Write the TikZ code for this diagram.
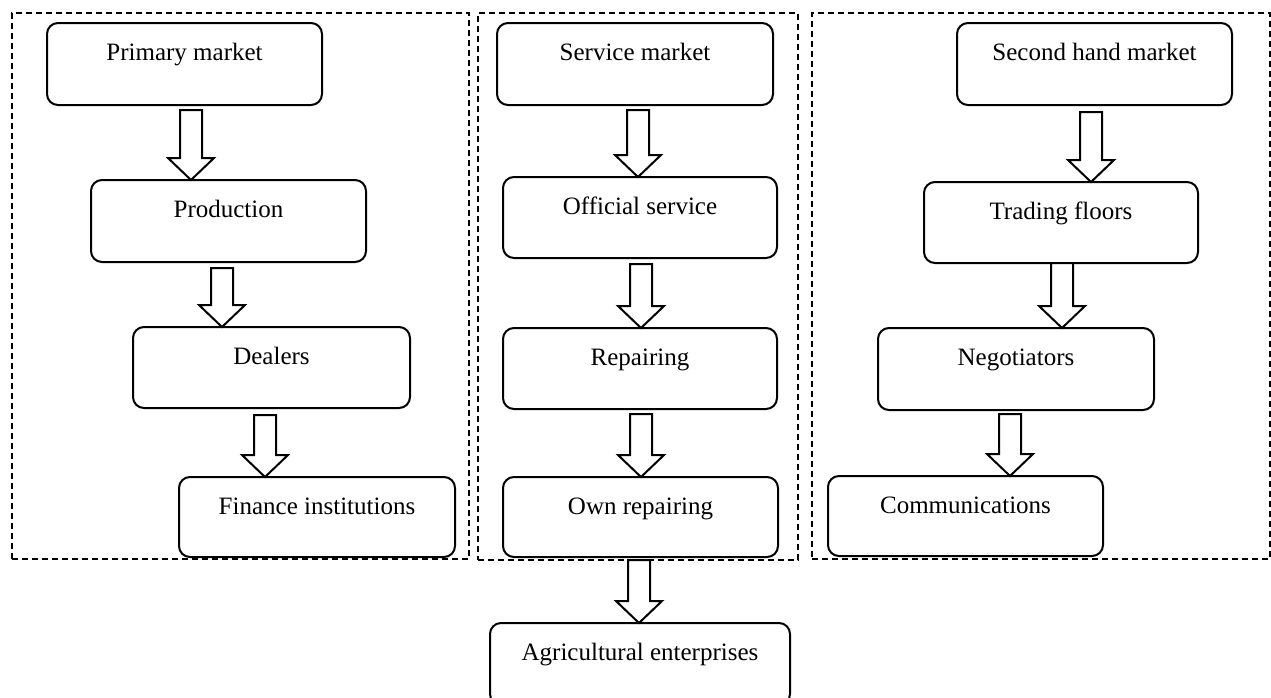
\documentclass[tikz,border=0pt]{standalone}
\usepackage{fontspec}
\setmainfont{Liberation Serif}
\usetikzlibrary{calc}
\tikzset{
  box/.style={draw, line width=2pt, rounded corners=11pt, inner sep=0pt, outer sep=0pt,
    minimum width=275pt, minimum height=82pt, text height=37pt, text depth=45pt,
    anchor=north west, font=\fontsize{25}{30}\selectfont},
  frame/.style={draw, line width=1.3pt, dash pattern=on 6pt off 4pt, inner sep=0pt,
    outer sep=0pt, anchor=north west},
  blk/.style={draw, line width=2pt, fill=white, line join=miter},
}
\newcommand\blkarrow[4]{%
  \draw[blk] let \p1=(#1.south), \p2=(#2.north) in
    (#3pt-11pt,\y1-#4pt) -- (#3pt-11pt,\y2+22pt) -- (#3pt-23pt,\y2+22pt) --
    (#3pt,\y2) -- (#3pt+23pt,\y2+22pt) -- (#3pt+11pt,\y2+22pt) --
    (#3pt+11pt,\y1-#4pt) -- cycle;}
\begin{document}
\begin{tikzpicture}[x=1pt,y=-1pt]
\useasboundingbox (0,0) rectangle (1271,697);
\clip (0,0) rectangle (1271,697);
% frames
\node[frame, minimum width=457pt, minimum height=546pt] (fl) at (12,13) {};
\node[frame, minimum width=320pt, minimum height=547pt] (fm) at (478,13) {};
\node[frame, minimum width=458pt, minimum height=546pt] (fr) at (812,13) {};
% left column
\node[box] (pm) at (47,23) {Primary market};
\node[box] (pr) at (91,180) {Production};
\node[box, minimum width=277pt, minimum height=81pt, text depth=44pt] (de) at (133,327) {Dealers};
\node[box, minimum width=276pt, minimum height=80pt, text depth=43pt] (fi) at (179,477) {Finance institutions};
% middle column
\node[box, minimum width=276pt] (sm) at (497,23) {Service market};
\node[box, minimum width=274pt, minimum height=81pt, text depth=44pt] (os) at (503,177) {Official service};
\node[box, minimum width=274pt, minimum height=81pt, text depth=44pt] (re) at (503,328) {Repairing};
\node[box, minimum width=275pt, minimum height=80pt, text depth=43pt] (or) at (503,477) {Own repairing};
\node[box, minimum width=300pt, minimum height=82pt, text depth=45pt] (ag) at (490,623) {Agricultural enterprises};
% right column
\node[box] (sh) at (957,23) {Second hand market};
\node[box, minimum width=274pt, minimum height=81pt, text depth=44pt] (tf) at (924,182) {Trading floors};
\node[box, minimum width=276pt] (ne) at (878,328) {Negotiators};
\node[box, minimum width=275pt, minimum height=80pt, text depth=43pt] (co) at (828,476) {Communications};
% block arrows
\blkarrow{pm}{pr}{191}{5}
\blkarrow{pr}{de}{222}{6}
\blkarrow{de}{fi}{265}{7}
\blkarrow{sm}{os}{638}{5}
\blkarrow{os}{re}{641}{6}
\blkarrow{re}{or}{641}{5}
\blkarrow{or}{ag}{639}{3}
\blkarrow{sh}{tf}{1091}{7}
\blkarrow{tf}{ne}{1062}{0}
\blkarrow{ne}{co}{1010}{4}
\end{tikzpicture}
\end{document}
